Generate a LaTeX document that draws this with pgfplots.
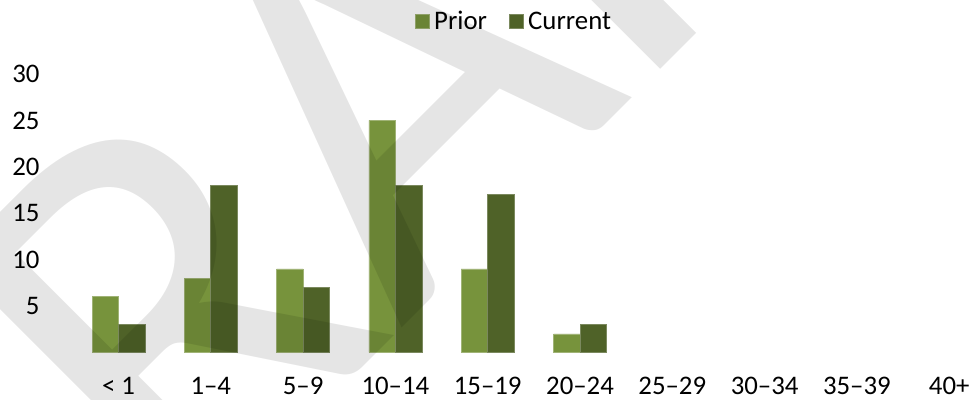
\documentclass[border=0pt]{standalone}
\usepackage{fontspec}
\setmainfont{Carlito}
\usepackage{pgfplots}
\pgfplotsset{compat=1.18}
\definecolor{prior}{HTML}{77933C}
\definecolor{current}{HTML}{4F6228}
\definecolor{wm}{RGB}{229,229,229}
\begin{document}
\begin{tikzpicture}
\useasboundingbox (0,0) rectangle (487.5pt,200pt);
\begin{axis}[
  at={(36.175pt,23.75pt)}, anchor=south west,
  scale only axis, width=461.5pt, height=139.25pt,
  xmin=-0.5, xmax=9.5, ymin=0, ymax=30,
  enlargelimits=false, clip=false,
  ybar=0pt, bar width=13.25pt,
  axis line style={draw=none},
  major tick length=0pt,
  xtick={0,...,9},
  xticklabels={< 1,1–4,5–9,10–14,15–19,20–24,25–29,30–34,35–39,40+},
  ytick={5,10,...,30},
  /pgf/number format/assume math mode=true,
  tick label style={font=\fontsize{13.4}{15}\selectfont},
  xticklabel style={anchor=base, inner sep=0pt, yshift=-21.25pt},
  yticklabel style={anchor=east, inner sep=0pt, xshift=-16.2pt},
  legend style={at={(axis description cs:0.4796,1.187)}, anchor=center,
    draw=none, fill=none, font=\fontsize{13.4}{15}\selectfont,
    legend columns=2,
    /tikz/every even column/.append style={column sep=9pt}},
  legend image code/.code={\fill[#1] (0pt,-3.2pt) rectangle (7.2pt,4pt);},
]
\addplot[fill=prior, draw=prior!70!white, line width=0.4pt] coordinates {(0,6) (1,8) (2,9) (3,25) (4,9) (5,2)};
\addlegendentry{Prior}
\addplot[fill=current, draw=current!75!white, line width=0.4pt] coordinates {(0,3) (1,18) (2,7) (3,18) (4,17) (5,3)};
\addlegendentry{Current}
\end{axis}
\node[blend mode=multiply, text=wm, rotate=45, anchor=base, inner sep=0pt,
      font=\fontsize{285}{290}\selectfont] at (237.25pt,72.25pt) {DRAFT};
\end{tikzpicture}
\end{document}
